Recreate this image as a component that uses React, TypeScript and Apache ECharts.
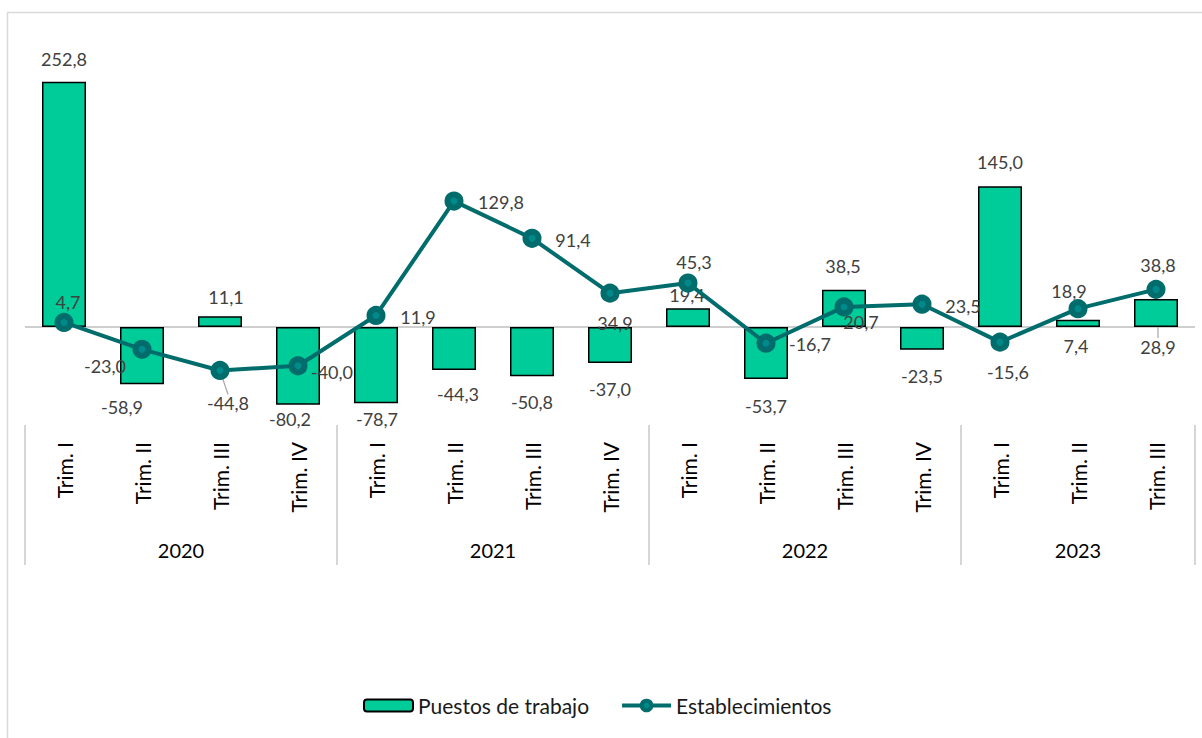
import React, { useEffect, useRef } from "react";
import * as echarts from "echarts";

const quarters = [
  "Trim. I", "Trim. II", "Trim. III", "Trim. IV",
  "Trim. I", "Trim. II", "Trim. III", "Trim. IV",
  "Trim. I", "Trim. II", "Trim. III", "Trim. IV",
  "Trim. I", "Trim. II", "Trim. III",
];
const years = ["2020", "2021", "2022", "2023"];
const yearSpans = [4, 4, 4, 3];
const puestos = [252.8, -58.9, 11.1, -80.2, -78.7, -44.3, -50.8, -37.0, 19.4, -53.7, 38.5, -23.5, 145.0, 7.4, 28.9];
const establecimientos = [4.7, -23.0, -44.8, -40.0, 11.9, 129.8, 91.4, 34.9, 45.3, -16.7, 20.7, 23.5, -15.6, 18.9, 38.8];

// label placement tweaks (dx, dy) – styling only
const barLabelOffsets = [[0, -23], [-20, 23], [6, -19], [-8, 14], [1, 16], [4, 24], [0, 26], [0, 26], [-1, -13], [0, 27], [-1, -24], [0, 26], [0, -24], [-2, 26], [2, 48]];
const lineLabelOffsets = [[4, -20], [-37, 17], [8, 33], [34, 6], [42, 2], [47, 1], [41, 2], [5, 30], [6, -21], [44, 1], [17, 15], [41, 2], [8, 30], [-9, -18], [2, -24]];
const barLeader = [14];
const lineLeader = [2];

const fmt = (v: number) => v.toFixed(1).replace(".", ",");
const FONT = "Lato";
const LINE_COLOR = "#006C6C";
const MARKER_FILL = "#00898A";

export default function App() {
  const ref = useRef<HTMLDivElement>(null);
  useEffect(() => {
    if (!ref.current) return;
    const chart = echarts.init(ref.current, null, { renderer: "svg" });

    const boundaries: number[] = [0];
    const centers: number[] = [];
    yearSpans.forEach((s) => {
      const start = boundaries[boundaries.length - 1];
      centers.push(start + s / 2);
      boundaries.push(start + s);
    });

    const labelBase = {
      show: true,
      fontFamily: FONT,
      fontSize: 18,
      color: "#404040",
      align: "center",
      verticalAlign: "middle",
      distance: 0,
    };
    const leader = (on: boolean) =>
      on ? { show: true, lineStyle: { color: "#a6a6a6", width: 1.2 } } : { show: false };

    chart.setOption({
      animation: false,
      backgroundColor: "#ffffff",
      textStyle: { fontFamily: FONT },
      graphic: [
        {
          type: "rect",
          shape: { x: 7.5, y: 12.5, width: 1220, height: 740 },
          style: { fill: "none", stroke: "#d9d9d9", lineWidth: 1.5 },
          silent: true,
          z: -10,
        },
      ],
      grid: { left: 25, right: 7, top: 36, bottom: 314 },
      legend: {
        top: 690,
        left: 358,
        itemWidth: 49,
        itemHeight: 12,
        itemGap: 31,
        textStyle: { fontFamily: FONT, fontSize: 21, color: "#1a1a1a" },
        data: [
          { name: "Puestos de trabajo" },
          {
            name: "Establecimientos",
            lineStyle: { width: 4, color: LINE_COLOR },
            itemStyle: { color: MARKER_FILL, borderColor: LINE_COLOR, borderWidth: 4 },
          },
        ],
      },
      xAxis: [
        {
          type: "category",
          data: quarters,
          position: "bottom",
          axisLine: { show: false, onZero: false },
          axisTick: { show: false },
          axisLabel: {
            rotate: 90,
            margin: 18,
            fontFamily: FONT,
            fontSize: 21,
            color: "#000000",
            interval: 0,
          },
        },
        {
          type: "value",
          min: 0,
          max: quarters.length,
          position: "bottom",
          offset: 141,
          axisLine: { show: false, onZero: false },
          splitLine: { show: false },
          axisTick: {
            show: true,
            inside: true,
            length: 140,
            customValues: boundaries,
            lineStyle: { color: "#c8c8c8", width: 1.5 },
          },
          axisLabel: {
            show: true,
            inside: true,
            margin: 5,
            customValues: centers,
            formatter: (v: number) => {
              const i = centers.indexOf(v);
              return i >= 0 ? years[i] : "";
            },
            fontFamily: FONT,
            fontSize: 20,
            color: "#000000",
          },
        },
      ],
      yAxis: {
        type: "value",
        min: -100,
        max: 300,
        show: false,
      },
      series: [
        {
          name: "Puestos de trabajo",
          type: "bar",
          xAxisIndex: 0,
          barWidth: 44,
          itemStyle: { color: "#00CC99", borderColor: "#000000", borderWidth: 1.5 },
          data: puestos.map((v, i) => ({
            value: v,
            label: {
              ...labelBase,
              position: v >= 0 ? "top" : "bottom",
              offset: barLabelOffsets[i],
              formatter: () => fmt(v),
            },
            labelLine: leader(barLeader.includes(i)),
          })),
          markLine: {
            silent: true,
            symbol: "none",
            label: { show: false },
            lineStyle: { color: "#bfbfbf", width: 1.5, type: "solid" },
            data: [{ yAxis: 0 }],
            z: 1,
          },
          z: 2,
        },
        {
          name: "Establecimientos",
          type: "line",
          xAxisIndex: 0,
          symbol: "circle",
          symbolSize: 13,
          lineStyle: { color: LINE_COLOR, width: 4 },
          itemStyle: { color: MARKER_FILL, borderColor: LINE_COLOR, borderWidth: 6 },
          data: establecimientos.map((v, i) => ({
            value: v,
            label: {
              ...labelBase,
              position: "inside",
              offset: lineLabelOffsets[i],
              formatter: () => fmt(v),
            },
            labelLine: leader(lineLeader.includes(i)),
          })),
          z: 3,
        },
      ],
    });

    return () => chart.dispose();
  }, []);

  return (
    <div
      ref={ref}
      style={{ position: "absolute", left: 0, top: 0, width: 1202, height: 738 }}
    />
  );
}
